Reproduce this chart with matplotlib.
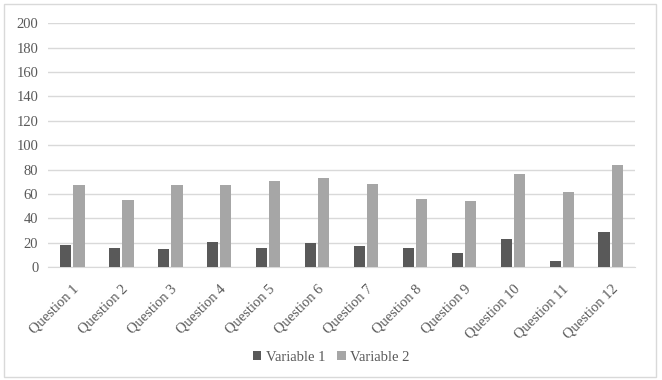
import matplotlib.pyplot as plt
import numpy as np
from matplotlib.patches import Rectangle

# --- Données ---
questions = ['Question %d' % i for i in range(1, 13)]
variable_1 = [18, 16, 15, 21, 16, 20, 17, 16, 12, 23, 5, 29]
variable_2 = [67, 55, 67, 67, 71, 73, 68, 56, 54, 76, 62, 84]
y_ticks = [0, 20, 40, 60, 80, 100, 120, 140, 160, 180, 200]

plt.rcParams['font.family'] = ['Liberation Serif', 'DejaVu Serif']

fig = plt.figure(figsize=(6.62, 3.80), dpi=100)
# cadre extérieur du graphique
fig.patches.append(Rectangle((0.006, 0.008), 0.985, 0.982, transform=fig.transFigure,
                             fill=False, edgecolor='#d9d9d9', linewidth=1))

ax = fig.add_axes([0.0725, 0.297, 0.887, 0.642])
x = np.arange(len(questions))
largeur = 0.23
ax.bar(x - 0.135, variable_1, largeur, color='#595959', label='Variable 1', zorder=3)
ax.bar(x + 0.135, variable_2, largeur, color='#a6a6a6', label='Variable 2', zorder=3)

ax.set_xlim(-0.5, len(questions) - 0.5)
ax.set_ylim(0, 200)
ax.set_yticks(y_ticks)
ax.yaxis.grid(True, color='#d9d9d9', linewidth=1, zorder=0)
for s in ['top', 'right', 'left']:
    ax.spines[s].set_visible(False)
ax.spines['bottom'].set_color('#d9d9d9')
ax.tick_params(axis='both', length=0, colors='#595959', labelsize=10.5)
ax.tick_params(axis='y', pad=7)
ax.set_xticks(x)
ax.set_xticklabels(questions, rotation=45, ha='right', rotation_mode='anchor')
ax.tick_params(axis='x', pad=11)

fig.legend(loc='center', bbox_to_anchor=(0.5, 0.06), ncol=2, frameon=False,
           fontsize=10.5, labelcolor='#595959', handlelength=0.6, handleheight=0.6,
           handletextpad=0.3, columnspacing=0.8)

fig.savefig('out.png', dpi=100)
